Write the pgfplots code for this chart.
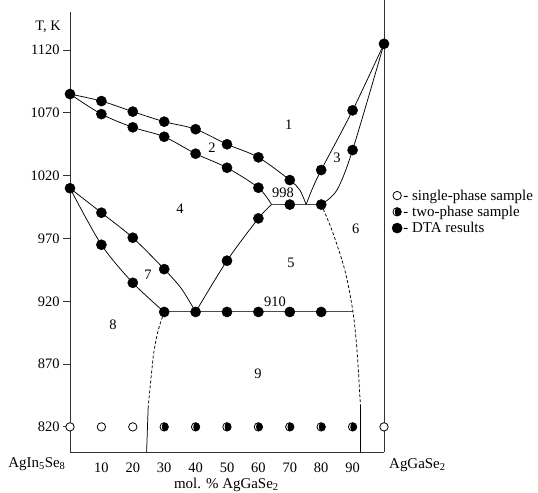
\documentclass[border=0pt]{standalone}
\usepackage{pgfplots}
\pgfplotsset{compat=1.18}
\usepackage{fontspec}
\setmainfont{Liberation Serif}

\pgfdeclareplotmark{halfc}{%
  \pgfscope
  \pgfsetfillcolor{black}%
  \pgfpathcircle{\pgfpointorigin}{\pgfplotmarksize}\pgfusepath{fill}%
  \pgfsetfillcolor{white}%
  \pgfpathmoveto{\pgfpoint{0pt}{\pgfplotmarksize}}%
  \pgfpatharc{90}{270}{\pgfplotmarksize}\pgfpathclose\pgfusepath{fill}%
  \pgfsetfillcolor{black}%
  \pgfpathellipse{\pgfpointorigin}{\pgfpoint{0.55\pgfplotmarksize}{0pt}}{\pgfpoint{0pt}{\pgfplotmarksize}}\pgfusepath{fill}%
  \pgfpathcircle{\pgfpointorigin}{\pgfplotmarksize}\pgfusepath{stroke}%
  \endpgfscope
}

\tikzset{lbl/.style={font=\fontsize{14.5}{16}\selectfont, inner sep=0pt},
  crv/.style={line width=0.75bp, black, smooth, no markers},
  hline/.style={line width=1bp, black!70, no markers}}

\begin{document}
\begin{tikzpicture}
\useasboundingbox (0,0) rectangle (538bp,493bp);
\begin{axis}[
  at={(70bp,41bp)}, anchor=south west, scale only axis,
  width=314bp, height=439.6bp,
  xmin=0, xmax=100, ymin=800, ymax=1150,
  axis x line*=bottom, axis y line*=left,
  axis line style={line width=0.9bp, black!80},
  xtick={10,20,...,90}, ytick={820,870,...,1120},
  xtick style={draw=none},
  ytick style={line width=0.9bp, black!80},
  tick align=outside, major tick length=7bp,
  ticklabel style={font=\fontsize{14.5}{16}\selectfont},
  /pgf/number format/assume math mode=true,
  /pgf/number format/set thousands separator={},
  xticklabel style={yshift=0bp},
  clip=false,
  legend style={draw=none, fill=none, at={(axis cs:102.5,1010)}, anchor=north west,
    font=\fontsize{15}{17}\selectfont, inner sep=0pt, row sep=2bp,
    nodes={inner sep=1.2bp},
    /tikz/every even column/.style={column sep=0pt}},
  legend cell align=left,
  legend image code/.code={\draw[#1] plot coordinates {(0bp,0bp)};},
]
% curves
\addplot[crv, forget plot] coordinates {(0,1085)(10,1079.4)(20,1071)(30,1063)(40,1057)(50,1045)(60,1034.6)(70,1016.5)(73.2,1008.5)(75.2,997)};
\addplot[crv, forget plot] coordinates {(0,1085)(10,1069)(20,1058.5)(30,1051)(40,1037.5)(50,1026.3)(60,1010.4)(64.2,997)};
\addplot[hline, forget plot] coordinates {(64.2,997)(80,997)};
\addplot[crv, forget plot] coordinates {(75.2,997)(77,1008.5)(80,1024.5)(90,1072)(100,1125)};
\addplot[crv, forget plot] coordinates {(80,997)(85,1008.5)(90,1040.4)(100,1125)};
\addplot[crv, forget plot] coordinates {(0,1010)(10,990.5)(20,970.6)(30,945.6)(35.5,930)(40,911.5)};
\addplot[crv, forget plot] coordinates {(0,1010)(10,965)(20,934.7)(30,911.5)};
\addplot[hline, forget plot] coordinates {(30,911.5)(90,911.5)};
\addplot[crv, forget plot] coordinates {(40,911.5)(50,952.3)(60,986)(64.2,997)};
\addplot[crv, dash pattern=on 3bp off 2bp, forget plot] coordinates {(30,911.5)(28.1,897)(26.8,881)(26.3,871)(24.9,836)};
\addplot[crv, forget plot] coordinates {(24.9,836)(24.4,800)};
\addplot[crv, dash pattern=on 3bp off 2bp, forget plot] coordinates {(80,997)(83.4,976.7)(87.5,945)(90.1,912)(91.4,881)(92.4,841)(92.5,836)};
\addplot[crv, forget plot] coordinates {(92.5,836)(92.5,800)};
% samples
\addplot[only marks, mark=*, mark size=4.2bp, mark options={fill=white, draw=black, line width=0.8bp}]
  coordinates {(0,820)(10,820)(20,820)(100,820)};
\addlegendentry{- single-phase sample}
\addplot[only marks, mark=halfc, mark size=4.2bp, mark options={draw=black, line width=0.8bp}]
  coordinates {(30,820)(40,820)(50,820)(60,820)(70,820)(80,820)(90,820)};
\addlegendentry{- two-phase sample}
\addplot[only marks, mark=*, mark size=5.1bp, mark options={fill=black, draw=black}]
  coordinates {(0,1085)(10,1079.4)(20,1071)(30,1063)(40,1057)(50,1045)(60,1034.6)(70,1016.5)
  (10,1069)(20,1058.5)(30,1051)(40,1037.5)(50,1026.3)(60,1010.4)
  (70,997)(80,997)(80,1024.5)(90,1072)(90,1040.4)(100,1125)
  (0,1010)(10,990.5)(20,970.6)(30,945.6)(10,965)(20,934.7)
  (30,911.5)(40,911.5)(50,911.5)(60,911.5)(70,911.5)(80,911.5)
  (50,952.3)(60,986)};
\addlegendentry{- DTA results}
% right axis line
\draw[line width=0.9bp, black!80] (rel axis cs:1,0) -- (rel axis cs:1,1.0282);
% texts
\node[lbl, anchor=base east] at (axis cs:-2.87,1135.9) {T, K};
\node[font=\fontsize{15}{17}\selectfont, inner sep=0pt, anchor=base west] at (axis cs:-19.7,787.4) {AgIn\textsubscript{5}Se\textsubscript{8}};
\node[font=\fontsize{15}{17}\selectfont, inner sep=0pt, anchor=base west] at (axis cs:101.6,787) {AgGaSe\textsubscript{2}};
\node[font=\fontsize{15}{17}\selectfont, inner sep=0pt, anchor=base] at (axis cs:49.8,771) {mol. \% AgGaSe\textsubscript{2}};
\node[lbl] at (axis cs:69.7,1060.3) {1};
\node[lbl] at (axis cs:45.2,1042) {2};
\node[lbl] at (axis cs:85,1034) {3};
\node[lbl] at (axis cs:67.8,1006) {998};
\node[lbl] at (axis cs:35,994) {4};
\node[lbl] at (axis cs:91,977.5) {6};
\node[lbl] at (axis cs:70.4,950.4) {5};
\node[lbl] at (axis cs:24.8,941) {7};
\node[lbl] at (axis cs:65.3,920) {910};
\node[lbl] at (axis cs:13.7,901) {8};
\node[lbl] at (axis cs:59.9,862) {9};
\end{axis}
\end{tikzpicture}
\end{document}
